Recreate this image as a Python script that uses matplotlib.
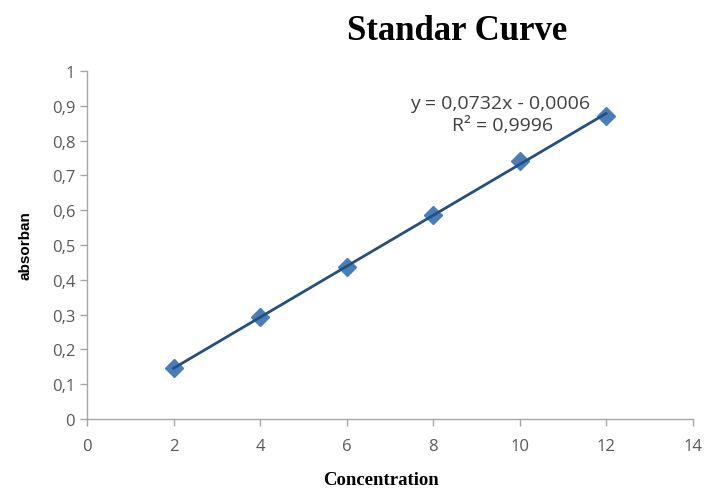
import numpy as np
import matplotlib
matplotlib.use("Agg")
import matplotlib.pyplot as plt
from matplotlib.ticker import FuncFormatter

# data
concentration = [2, 4, 6, 8, 10, 12]
absorbance = [0.147, 0.293, 0.436, 0.587, 0.742, 0.871]
slope = 0.0732
intercept = -0.0006
eq_text = "y = 0,0732x - 0,0006"
r2_text = "R² = 0,9996"


def comma_fmt(v, pos):
    if abs(v) < 1e-9:
        return "0"
    if abs(v - 1) < 1e-9:
        return "1"
    return ("%.1f" % v).replace(".", ",")


fig = plt.figure(figsize=(7.09, 4.89), dpi=100)
ax = fig.add_axes([0.1227, 0.141, 0.8543, 0.712])

ax.plot(concentration, absorbance, linestyle="none", marker="D",
        markersize=9, color="#4a7ebb", zorder=2)

# linear trendline
xs = np.array([concentration[0], concentration[-1]])
ax.plot(xs, slope * xs + intercept, color="#24507e", lw=2, zorder=3)

ax.set_xlim(0, 14)
ax.set_ylim(0, 1)
ax.set_xticks(range(0, 15, 2))
ax.set_yticks(np.arange(0, 1.01, 0.1))
ax.yaxis.set_major_formatter(FuncFormatter(comma_fmt))

for s in ["top", "right"]:
    ax.spines[s].set_visible(False)
for s in ["left", "bottom"]:
    ax.spines[s].set_color("#a6a6a6")
    ax.spines[s].set_linewidth(1)
ax.tick_params(axis="both", colors="#a6a6a6", labelcolor="#595959",
               labelsize=12, length=5, width=1)
ax.tick_params(axis="x", pad=9)
for lab in ax.get_xticklabels() + ax.get_yticklabels():
    lab.set_family("Open Sans")

ax.set_ylabel("absorban", fontsize=11, fontweight="bold", family="Liberation Sans",
              labelpad=14)
ax.set_xlabel("Concentration", fontsize=13.5, fontweight="bold",
              family="Liberation Serif")
ax.xaxis.set_label_coords(0.485, -0.15)

fig.text(0.645, 0.935, "Standar Curve", fontsize=25, fontweight="bold",
         family="Liberation Serif", ha="center", va="center")

ax.text(9.55, 0.908, eq_text, fontsize=14, color="#404040", family="Open Sans",
        ha="center", va="center")
ax.text(9.6, 0.845, r2_text, fontsize=14, color="#404040", family="Open Sans",
        ha="center", va="center")

fig.savefig("out.png", dpi=100)
